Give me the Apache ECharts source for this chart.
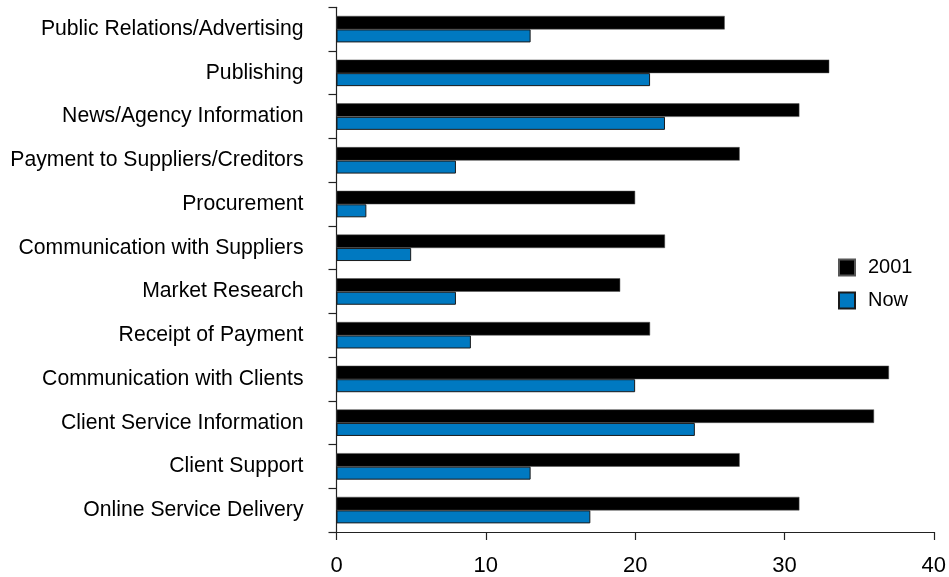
<!DOCTYPE html>
<html>
<head>
<meta charset="utf-8">
<script src="https://cdn.jsdelivr.net/npm/echarts@6/dist/echarts.min.js"></script>
<style>
  html, body { margin: 0; padding: 0; background: #fff; }
  #chart { width: 949px; height: 577px; }
</style>
</head>
<body>
<div id="chart"></div>
<script>
// Online activities: share in 2001 vs. now
const categories = [
  'Public Relations/Advertising',
  'Publishing',
  'News/Agency Information',
  'Payment to Suppliers/Creditors',
  'Procurement',
  'Communication with Suppliers',
  'Market Research',
  'Receipt of Payment',
  'Communication with Clients',
  'Client Service Information',
  'Client Support',
  'Online Service Delivery'
];
const values2001 = [26, 33, 31, 27, 20, 22, 19, 21, 37, 36, 27, 31];
const valuesNow  = [13, 21, 22, 8, 2, 5, 8, 9, 20, 24, 13, 17];
const xTicks = { min: 0, max: 40, interval: 10 };

const FONT = '"Liberation Sans", Arial, sans-serif';
const chart = echarts.init(document.getElementById('chart'), null, { renderer: 'canvas' });

chart.setOption({
  animation: false,
  backgroundColor: '#ffffff',
  textStyle: { fontFamily: FONT },
  grid: { left: 336.5, right: 11.7, top: 7.3, bottom: 43 },
  legend: {
    orient: 'vertical',
    left: 838,
    top: 257.5,
    padding: 0,
    itemWidth: 16,
    itemHeight: 16,
    itemGap: 13,
    icon: 'rect',
    textStyle: { fontFamily: FONT, fontSize: 20, color: '#000', padding: [0, 0, 0, 8] },
    data: ['2001', 'Now']
  },
  xAxis: {
    type: 'value',
    min: xTicks.min,
    max: xTicks.max,
    interval: xTicks.interval,
    splitLine: { show: false },
    axisLine: { show: true, lineStyle: { color: '#222', width: 1.2 } },
    axisTick: { show: true, length: 8, lineStyle: { color: '#222', width: 1.2 } },
    axisLabel: { fontFamily: FONT, fontSize: 22, color: '#000', margin: 23 }
  },
  yAxis: {
    type: 'category',
    inverse: true,
    data: categories,
    axisLine: { show: true, lineStyle: { color: '#222', width: 1.2 } },
    axisTick: { show: true, length: 8, lineStyle: { color: '#222', width: 1.2 } },
    axisLabel: { fontFamily: FONT, fontSize: 21.2, color: '#000', margin: 33 }
  },
  series: [
    {
      name: '2001',
      type: 'bar',
      data: values2001,
      barWidth: 13.5,
      barGap: '0%',
      itemStyle: { color: '#000000', borderColor: '#555', borderWidth: 0.5 }
    },
    {
      name: 'Now',
      type: 'bar',
      data: valuesNow,
      barWidth: 13,
      barGap: '0%',
      itemStyle: { color: '#0079C1', borderColor: '#1a1a1a', borderWidth: 1 }
    }
  ]
});
</script>
</body>
</html>
